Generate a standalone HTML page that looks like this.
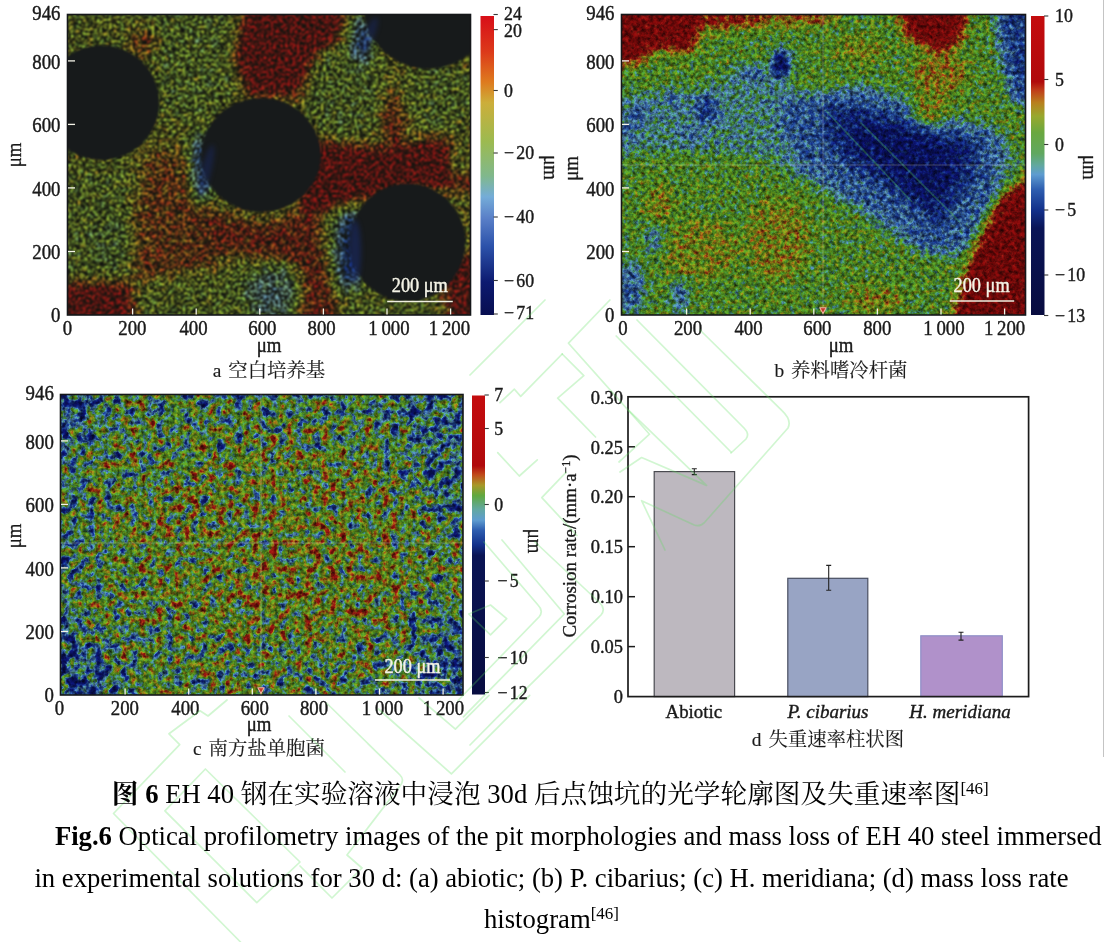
<!DOCTYPE html>
<html lang="zh"><head><meta charset="utf-8"><title>Fig.6</title>
<style>html,body{margin:0;padding:0;background:#fff;}body{width:1110px;height:942px;overflow:hidden;position:relative;}svg{position:absolute;left:0;top:0;font-family:"Liberation Serif", "Noto Serif CJK SC", serif;}</style></head><body>
<svg width="1110" height="942" viewBox="0 0 1110 942">
<rect width="1110" height="942" fill="#fff"/>
<line x1="1103.5" y1="0" x2="1103.5" y2="757" stroke="#c4c4c4" stroke-width="1"/>
<g id="figure" filter="url(#soft)">
<defs><filter id="soft" x="0" y="0" width="100%" height="100%" color-interpolation-filters="sRGB"><feGaussianBlur stdDeviation="0.55"/></filter></defs>
<defs><filter id="cblur" x="-10%" y="-10%" width="120%" height="120%" color-interpolation-filters="sRGB"><feGaussianBlur stdDeviation="1.2"/></filter><filter id="hblur" x="-30%" y="-30%" width="160%" height="160%" color-interpolation-filters="sRGB"><feGaussianBlur stdDeviation="2.5"/></filter></defs>
<defs><clipPath id="clipA"><rect x="67.5" y="14.5" width="403.0" height="300.5"/></clipPath>
<filter id="fA" filterUnits="userSpaceOnUse" x="27.5" y="-25.5" width="483.0" height="380.5" color-interpolation-filters="sRGB">
<feGaussianBlur in="SourceGraphic" stdDeviation="7" result="h"/>
<feTurbulence type="fractalNoise" baseFrequency="0.16" numOctaves="3" seed="5" result="n"/>
<feColorMatrix in="n" type="matrix" values="1 0 0 0 0 1 0 0 0 0 1 0 0 0 0 0 0 0 0 1" result="ng"/>
<feComposite in="h" in2="ng" operator="arithmetic" k1="0" k2="1" k3="0.3" k4="-0.150" result="hn"/>
<feComponentTransfer in="hn" result="col"><feFuncR type="table" tableValues="0.039 0.050 0.060 0.071 0.081 0.092 0.102 0.128 0.154 0.180 0.207 0.243 0.319 0.395 0.471 0.528 0.573 0.617 0.637 0.623 0.608 0.606 0.655 0.704 0.753 0.792 0.831 0.871 0.871 0.861 0.851 0.838 0.824 0.809 0.794 0.779 0.765 0.750 0.735 0.721 0.706"/><feFuncG type="table" tableValues="0.071 0.097 0.123 0.149 0.175 0.201 0.227 0.268 0.309 0.350 0.391 0.441 0.528 0.615 0.702 0.764 0.808 0.852 0.874 0.861 0.849 0.840 0.845 0.850 0.855 0.799 0.742 0.686 0.584 0.472 0.359 0.277 0.216 0.154 0.115 0.109 0.103 0.097 0.091 0.085 0.078"/><feFuncB type="table" tableValues="0.314 0.362 0.410 0.459 0.507 0.556 0.604 0.635 0.666 0.697 0.728 0.760 0.795 0.830 0.864 0.849 0.800 0.751 0.665 0.523 0.380 0.264 0.249 0.234 0.220 0.200 0.180 0.161 0.147 0.135 0.123 0.115 0.110 0.105 0.100 0.097 0.093 0.089 0.086 0.082 0.078"/><feFuncA type="linear" slope="0" intercept="1"/></feComponentTransfer>
<feTurbulence type="fractalNoise" baseFrequency="0.42" numOctaves="4" seed="11" result="s"/><feColorMatrix in="s" type="matrix" values="0 0 0 0 0.07 0 0 0 0 0.08 0 0 0 0 0.06 9 0 0 0 -3.45" result="sk"/><feComposite in="sk" in2="col" operator="over"/>
<feGaussianBlur stdDeviation="1.3"/>
</filter></defs>
<g clip-path="url(#clipA)"><g filter="url(#fA)">
<rect x="27.5" y="-25.5" width="483.0" height="380.5" fill="#9e9e9e"/>
<polygon points="40,0 160,0 150,50 40,60" fill="#969696"/>
<polygon points="150,0 245,0 240,70 215,120 165,120 150,60" fill="#8c8c8c"/>
<polygon points="245,0 345,0 335,55 300,95 250,95 235,60" fill="#ebebeb"/>
<ellipse cx="143" cy="42" rx="14" ry="12" fill="#c7c7c7"/>
<ellipse cx="343" cy="92" rx="40" ry="50" fill="#8c8c8c"/>
<ellipse cx="440" cy="96" rx="36" ry="34" fill="#8c8c8c"/>
<ellipse cx="394" cy="120" rx="10" ry="28" fill="#cccccc"/>
<polygon points="310,140 380,150 440,140 480,150 480,190 420,185 350,200 330,215 300,215" fill="#ebebeb"/>
<ellipse cx="462" cy="160" rx="14" ry="20" fill="#949494"/>
<polygon points="190,205 260,225 340,205 345,245 300,262 215,250 180,235" fill="#cccccc"/>
<polygon points="150,150 205,160 200,215 225,260 220,300 180,290 130,285 135,210" fill="#bdbdbd"/>
<polygon points="40,165 130,165 132,285 40,285" fill="#8f8f8f"/>
<ellipse cx="112" cy="240" rx="22" ry="25" fill="#858585"/>
<polygon points="40,283 130,283 136,330 40,330" fill="#e6e6e6"/>
<polygon points="136,283 245,262 250,330 136,330" fill="#919191"/>
<ellipse cx="272" cy="293" rx="30" ry="29" fill="#737373"/>
<ellipse cx="273" cy="296" rx="17" ry="17" fill="#636363"/>
<polygon points="300,245 330,240 335,300 360,330 300,330" fill="#cccccc"/>
<polygon points="318,215 350,200 352,290 390,300 440,300 440,330 345,330 330,285" fill="#919191"/>
<ellipse cx="350" cy="250" rx="12" ry="40" fill="#292929"/>
<ellipse cx="201" cy="166" rx="9" ry="36" fill="#383838"/>
<ellipse cx="362" cy="40" rx="9" ry="24" fill="#383838"/>
<polygon points="440,265 480,250 480,330 450,330 446,300" fill="#e0e0e0"/>
</g>
<g filter="url(#cblur)"><ellipse cx="101.5" cy="102.7" rx="58" ry="57.5" fill="#171a1b"/><ellipse cx="261" cy="155" rx="60" ry="57" fill="#171a1b"/><ellipse cx="428" cy="4" rx="65" ry="65" fill="#171a1b"/><ellipse cx="407.5" cy="242.5" rx="58" ry="59" fill="#171a1b"/></g><g filter="url(#hblur)" fill="#1b3190"><ellipse cx="355" cy="252" rx="6" ry="32" opacity="0.38"/><ellipse cx="206" cy="172" rx="5" ry="28" opacity="0.3" transform="rotate(14 206 172)"/><ellipse cx="369" cy="36" rx="5" ry="20" opacity="0.3" transform="rotate(22 369 36)"/></g>
</g>
<rect x="67.5" y="14.5" width="403.0" height="300.5" fill="none" stroke="#15171a" stroke-width="1.6"/>
<defs><clipPath id="clipB"><rect x="621.5" y="14.5" width="404.0" height="300.5"/></clipPath>
<filter id="fB" filterUnits="userSpaceOnUse" x="581.5" y="-25.5" width="484.0" height="380.5" color-interpolation-filters="sRGB">
<feGaussianBlur in="SourceGraphic" stdDeviation="6" result="h"/>
<feTurbulence type="fractalNoise" baseFrequency="0.2" numOctaves="3" seed="2" result="n"/>
<feColorMatrix in="n" type="matrix" values="1 0 0 0 0 1 0 0 0 0 1 0 0 0 0 0 0 0 0 1" result="ng"/>
<feComposite in="h" in2="ng" operator="arithmetic" k1="0" k2="1" k3="0.45" k4="-0.225" result="hn"/>
<feComponentTransfer in="hn" result="col"><feFuncR type="table" tableValues="0.039 0.042 0.046 0.049 0.052 0.058 0.071 0.085 0.099 0.116 0.145 0.175 0.204 0.277 0.350 0.400 0.361 0.322 0.324 0.337 0.353 0.373 0.392 0.447 0.525 0.598 0.647 0.696 0.711 0.718 0.708 0.676 0.643 0.631 0.620 0.608 0.596 0.580 0.565 0.549 0.533"/><feFuncG type="table" tableValues="0.063 0.069 0.076 0.082 0.089 0.102 0.141 0.180 0.220 0.261 0.310 0.359 0.408 0.492 0.576 0.644 0.651 0.658 0.664 0.671 0.676 0.678 0.681 0.682 0.682 0.671 0.612 0.553 0.460 0.359 0.265 0.184 0.102 0.090 0.078 0.067 0.055 0.051 0.047 0.043 0.039"/><feFuncB type="table" tableValues="0.376 0.403 0.429 0.455 0.481 0.508 0.540 0.571 0.602 0.634 0.669 0.703 0.737 0.771 0.804 0.812 0.714 0.616 0.471 0.314 0.207 0.176 0.146 0.131 0.128 0.124 0.118 0.111 0.105 0.098 0.092 0.085 0.078 0.073 0.067 0.061 0.055 0.051 0.047 0.043 0.039"/><feFuncA type="linear" slope="0" intercept="1"/></feComponentTransfer>
<feTurbulence type="fractalNoise" baseFrequency="0.24" numOctaves="3" seed="21" result="t2"/>
<feColorMatrix in="t2" type="matrix" values="1.25 0 0 0 0.1 1.25 0 0 0 0.1 1.25 0 0 0 0.1 0 0 0 0 1" result="sh"/>
<feBlend in="col" in2="sh" mode="multiply" result="col2"/>
<feGaussianBlur stdDeviation="0.75"/>
</filter></defs>
<g clip-path="url(#clipB)"><g filter="url(#fB)">
<rect x="581.5" y="-25.5" width="484.0" height="380.5" fill="#878787"/>
<polygon points="610,95 700,88 755,62 800,92 870,92 1000,132 1020,160 992,200 962,252 930,255 870,215 820,188 760,158 700,152 650,150 610,160" fill="#6b6b6b"/>
<polygon points="775,100 865,86 1002,134 998,192 962,254 925,254 858,208 798,168" fill="#4f4f4f"/>
<polygon points="826,105 864,108 979,143 974,176 948,214 940,228 889,188 846,163 824,136" fill="#303030"/>
<polygon points="850,125 900,128 960,152 950,185 930,205 890,175 856,150" fill="#1a1a1a"/>
<ellipse cx="800" cy="125" rx="22" ry="16" fill="#4c4c4c"/>
<ellipse cx="672" cy="100" rx="9" ry="7" fill="#424242"/>
<ellipse cx="707" cy="110" rx="12" ry="14" fill="#383838"/>
<ellipse cx="640" cy="112" rx="9" ry="8" fill="#424242"/>
<ellipse cx="752" cy="74" rx="12" ry="7" fill="#424242"/>
<ellipse cx="690" cy="135" rx="10" ry="7" fill="#474747"/>
<ellipse cx="628" cy="130" rx="8" ry="14" fill="#4c4c4c"/>
<polygon points="600,0 700,0 698,38 690,52 655,48 640,62 600,66" fill="#ebebeb"/>
<polygon points="700,0 772,0 768,24 700,30" fill="#d1d1d1"/>
<polygon points="772,0 838,0 832,24 775,24" fill="#bdbdbd"/>
<polygon points="898,0 968,0 962,40 940,52 905,36" fill="#ebebeb"/>
<ellipse cx="940" cy="72" rx="28" ry="22" fill="#a8a8a8"/>
<ellipse cx="932" cy="108" rx="20" ry="18" fill="#9e9e9e"/>
<ellipse cx="860" cy="50" rx="25" ry="14" fill="#9e9e9e"/>
<polygon points="994,0 1040,0 1040,110 1012,100 1002,60" fill="#404040"/>
<ellipse cx="781" cy="64" rx="8" ry="15" fill="#000000"/>
<polygon points="1045,165 1045,330 950,330 972,258 1000,200" fill="#f2f2f2"/>
<ellipse cx="778" cy="240" rx="32" ry="42" fill="#a1a1a1"/>
<ellipse cx="660" cy="203" rx="12" ry="20" fill="#a6a6a6"/>
<ellipse cx="875" cy="300" rx="30" ry="14" fill="#a1a1a1"/>
<ellipse cx="700" cy="250" rx="40" ry="30" fill="#9e9e9e"/>
<ellipse cx="630" cy="288" rx="13" ry="26" fill="#4c4c4c"/>
<ellipse cx="680" cy="296" rx="8" ry="16" fill="#4c4c4c"/>
<ellipse cx="655" cy="240" rx="10" ry="14" fill="#5c5c5c"/>
</g>

</g>
<rect x="621.5" y="14.5" width="404.0" height="300.5" fill="none" stroke="#15171a" stroke-width="1.6"/>
<defs><clipPath id="clipC"><rect x="60.5" y="394.5" width="402.5" height="300.5"/></clipPath>
<filter id="fC" filterUnits="userSpaceOnUse" x="20.5" y="354.5" width="482.5" height="380.5" color-interpolation-filters="sRGB">
<feGaussianBlur in="SourceGraphic" stdDeviation="12" result="h"/>
<feTurbulence type="fractalNoise" baseFrequency="0.115" numOctaves="3" seed="9" result="n"/>
<feColorMatrix in="n" type="matrix" values="1 0 0 0 0 1 0 0 0 0 1 0 0 0 0 0 0 0 0 1" result="ng"/>
<feComposite in="h" in2="ng" operator="arithmetic" k1="0" k2="1" k3="1.0" k4="-0.500" result="hn"/>
<feComponentTransfer in="hn" result="col"><feFuncR type="table" tableValues="0.039 0.041 0.043 0.045 0.047 0.049 0.051 0.053 0.055 0.070 0.085 0.101 0.129 0.176 0.245 0.347 0.389 0.342 0.320 0.336 0.355 0.380 0.406 0.456 0.523 0.590 0.638 0.680 0.706 0.706 0.695 0.669 0.643 0.629 0.616 0.602 0.588 0.575 0.561 0.547 0.533"/><feFuncG type="table" tableValues="0.063 0.067 0.071 0.075 0.078 0.082 0.086 0.090 0.094 0.138 0.181 0.225 0.282 0.361 0.455 0.573 0.646 0.654 0.662 0.670 0.676 0.678 0.681 0.681 0.678 0.675 0.622 0.557 0.472 0.358 0.259 0.180 0.102 0.094 0.086 0.078 0.071 0.063 0.055 0.047 0.039"/><feFuncB type="table" tableValues="0.376 0.392 0.408 0.424 0.439 0.455 0.471 0.486 0.502 0.537 0.572 0.607 0.649 0.704 0.756 0.803 0.784 0.667 0.521 0.333 0.207 0.176 0.146 0.132 0.129 0.126 0.120 0.114 0.107 0.099 0.092 0.085 0.078 0.074 0.069 0.064 0.059 0.054 0.049 0.044 0.039"/><feFuncA type="linear" slope="0" intercept="1"/></feComponentTransfer>
<feTurbulence type="fractalNoise" baseFrequency="0.24" numOctaves="3" seed="33" result="t2"/>
<feColorMatrix in="t2" type="matrix" values="1.25 0 0 0 0.1 1.25 0 0 0 0.1 1.25 0 0 0 0.1 0 0 0 0 1" result="sh"/>
<feBlend in="col" in2="sh" mode="multiply" result="col2"/>
<feGaussianBlur stdDeviation="0.65"/>
</filter></defs>
<g clip-path="url(#clipC)"><g filter="url(#fC)">
<rect x="20.5" y="354.5" width="482.5" height="380.5" fill="#828282"/>
<ellipse cx="270" cy="545" rx="150" ry="100" fill="#8f8f8f"/>
<ellipse cx="315" cy="580" rx="85" ry="60" fill="#959595"/>
<polygon points="40,380 110,380 90,440 40,460" fill="#5c5c5c"/>
<polygon points="40,460 75,460 78,640 40,640" fill="#6b6b6b"/>
<polygon points="40,640 95,640 130,710 40,710" fill="#575757"/>
<polygon points="370,380 480,380 480,540 440,520 400,440" fill="#666666"/>
<polygon points="425,620 480,600 480,710 410,710" fill="#5c5c5c"/>
<rect x="130" y="380" width="240" height="22" fill="#707070"/>
</g>

</g>
<rect x="60.5" y="394.5" width="402.5" height="300.5" fill="none" stroke="#15171a" stroke-width="1.6"/>
<path d="M621.5 165.0H1025.5M823.0 14.5V315.0" stroke="#d8d8d0" stroke-opacity="0.3" stroke-width="1" fill="none"/>
<path d="M819.8 307.8H826.2L823.0 313.4Z" fill="#c43a2a" stroke="#f2b0a0" stroke-width="1.1" stroke-linejoin="round"/>
<path d="M60.5 543.0H463.0M261.0 394.5V695.0" stroke="#d8d8d0" stroke-opacity="0.3" stroke-width="1" fill="none"/>
<path d="M257.8 687.8H264.2L261.0 693.4Z" fill="#c43a2a" stroke="#f2b0a0" stroke-width="1.1" stroke-linejoin="round"/>
<text transform="translate(67.5 335.0) scale(0.99 1.08)" font-size="19.0" text-anchor="middle" fill="#1a1a1a" stroke="#1a1a1a" stroke-width="0.4" word-spacing="-1">0</text>
<line x1="132.6" y1="308.5" x2="132.6" y2="314.5" stroke="#f4f4e8" stroke-width="1.3"/>
<text transform="translate(132.4 335.0) scale(0.99 1.08)" font-size="19.0" text-anchor="middle" fill="#1a1a1a" stroke="#1a1a1a" stroke-width="0.4" word-spacing="-1">200</text>
<line x1="196.2" y1="308.5" x2="196.2" y2="314.5" stroke="#f4f4e8" stroke-width="1.3"/>
<text transform="translate(193.5 335.0) scale(0.99 1.08)" font-size="19.0" text-anchor="middle" fill="#1a1a1a" stroke="#1a1a1a" stroke-width="0.4" word-spacing="-1">400</text>
<line x1="259.8" y1="308.5" x2="259.8" y2="314.5" stroke="#f4f4e8" stroke-width="1.3"/>
<text transform="translate(262.4 335.0) scale(0.99 1.08)" font-size="19.0" text-anchor="middle" fill="#1a1a1a" stroke="#1a1a1a" stroke-width="0.4" word-spacing="-1">600</text>
<line x1="323.4" y1="308.5" x2="323.4" y2="314.5" stroke="#f4f4e8" stroke-width="1.3"/>
<text transform="translate(321.6 335.0) scale(0.99 1.08)" font-size="19.0" text-anchor="middle" fill="#1a1a1a" stroke="#1a1a1a" stroke-width="0.4" word-spacing="-1">800</text>
<line x1="387.0" y1="308.5" x2="387.0" y2="314.5" stroke="#f4f4e8" stroke-width="1.3"/>
<text transform="translate(389.0 335.0) scale(0.99 1.08)" font-size="19.0" text-anchor="middle" fill="#1a1a1a" stroke="#1a1a1a" stroke-width="0.4" word-spacing="-1">1 000</text>
<line x1="450.6" y1="308.5" x2="450.6" y2="314.5" stroke="#f4f4e8" stroke-width="1.3"/>
<text transform="translate(449.5 335.0) scale(0.99 1.08)" font-size="19.0" text-anchor="middle" fill="#1a1a1a" stroke="#1a1a1a" stroke-width="0.4" word-spacing="-1">1 200</text>
<text transform="translate(60.5 322.0) scale(0.99 1.08)" font-size="19.0" text-anchor="end" fill="#1a1a1a" stroke="#1a1a1a" stroke-width="0.4" >0</text>
<line x1="68.0" y1="251.5" x2="75.0" y2="251.5" stroke="#f4f4e8" stroke-width="1.3"/>
<text transform="translate(60.5 259.1) scale(0.99 1.08)" font-size="19.0" text-anchor="end" fill="#1a1a1a" stroke="#1a1a1a" stroke-width="0.4" >200</text>
<line x1="68.0" y1="187.9" x2="75.0" y2="187.9" stroke="#f4f4e8" stroke-width="1.3"/>
<text transform="translate(60.5 195.5) scale(0.99 1.08)" font-size="19.0" text-anchor="end" fill="#1a1a1a" stroke="#1a1a1a" stroke-width="0.4" >400</text>
<line x1="68.0" y1="124.4" x2="75.0" y2="124.4" stroke="#f4f4e8" stroke-width="1.3"/>
<text transform="translate(60.5 132.0) scale(0.99 1.08)" font-size="19.0" text-anchor="end" fill="#1a1a1a" stroke="#1a1a1a" stroke-width="0.4" >600</text>
<line x1="68.0" y1="60.9" x2="75.0" y2="60.9" stroke="#f4f4e8" stroke-width="1.3"/>
<text transform="translate(60.5 68.5) scale(0.99 1.08)" font-size="19.0" text-anchor="end" fill="#1a1a1a" stroke="#1a1a1a" stroke-width="0.4" >800</text>
<text transform="translate(60.5 19.9) scale(0.99 1.08)" font-size="19.0" text-anchor="end" fill="#1a1a1a" stroke="#1a1a1a" stroke-width="0.4" >946</text>
<text transform="translate(622.9 335.0) scale(0.99 1.08)" font-size="19.0" text-anchor="middle" fill="#1a1a1a" stroke="#1a1a1a" stroke-width="0.4" word-spacing="-1">0</text>
<line x1="686.6" y1="308.5" x2="686.6" y2="314.5" stroke="#f4f4e8" stroke-width="1.3"/>
<text transform="translate(688.0 335.0) scale(0.99 1.08)" font-size="19.0" text-anchor="middle" fill="#1a1a1a" stroke="#1a1a1a" stroke-width="0.4" word-spacing="-1">200</text>
<line x1="750.2" y1="308.5" x2="750.2" y2="314.5" stroke="#f4f4e8" stroke-width="1.3"/>
<text transform="translate(748.5 335.0) scale(0.99 1.08)" font-size="19.0" text-anchor="middle" fill="#1a1a1a" stroke="#1a1a1a" stroke-width="0.4" word-spacing="-1">400</text>
<line x1="813.8" y1="308.5" x2="813.8" y2="314.5" stroke="#f4f4e8" stroke-width="1.3"/>
<text transform="translate(817.4 335.0) scale(0.99 1.08)" font-size="19.0" text-anchor="middle" fill="#1a1a1a" stroke="#1a1a1a" stroke-width="0.4" word-spacing="-1">600</text>
<line x1="877.4" y1="308.5" x2="877.4" y2="314.5" stroke="#f4f4e8" stroke-width="1.3"/>
<text transform="translate(877.3 335.0) scale(0.99 1.08)" font-size="19.0" text-anchor="middle" fill="#1a1a1a" stroke="#1a1a1a" stroke-width="0.4" word-spacing="-1">800</text>
<line x1="941.0" y1="308.5" x2="941.0" y2="314.5" stroke="#f4f4e8" stroke-width="1.3"/>
<text transform="translate(944.0 335.0) scale(0.99 1.08)" font-size="19.0" text-anchor="middle" fill="#1a1a1a" stroke="#1a1a1a" stroke-width="0.4" word-spacing="-1">1 000</text>
<line x1="1004.6" y1="308.5" x2="1004.6" y2="314.5" stroke="#f4f4e8" stroke-width="1.3"/>
<text transform="translate(1004.6 335.0) scale(0.99 1.08)" font-size="19.0" text-anchor="middle" fill="#1a1a1a" stroke="#1a1a1a" stroke-width="0.4" word-spacing="-1">1 200</text>
<text transform="translate(614.5 322.0) scale(0.99 1.08)" font-size="19.0" text-anchor="end" fill="#1a1a1a" stroke="#1a1a1a" stroke-width="0.4" >0</text>
<line x1="622.0" y1="251.5" x2="629.0" y2="251.5" stroke="#f4f4e8" stroke-width="1.3"/>
<text transform="translate(614.5 259.1) scale(0.99 1.08)" font-size="19.0" text-anchor="end" fill="#1a1a1a" stroke="#1a1a1a" stroke-width="0.4" >200</text>
<line x1="622.0" y1="187.9" x2="629.0" y2="187.9" stroke="#f4f4e8" stroke-width="1.3"/>
<text transform="translate(614.5 195.5) scale(0.99 1.08)" font-size="19.0" text-anchor="end" fill="#1a1a1a" stroke="#1a1a1a" stroke-width="0.4" >400</text>
<line x1="622.0" y1="124.4" x2="629.0" y2="124.4" stroke="#f4f4e8" stroke-width="1.3"/>
<text transform="translate(614.5 132.0) scale(0.99 1.08)" font-size="19.0" text-anchor="end" fill="#1a1a1a" stroke="#1a1a1a" stroke-width="0.4" >600</text>
<line x1="622.0" y1="60.9" x2="629.0" y2="60.9" stroke="#f4f4e8" stroke-width="1.3"/>
<text transform="translate(614.5 68.5) scale(0.99 1.08)" font-size="19.0" text-anchor="end" fill="#1a1a1a" stroke="#1a1a1a" stroke-width="0.4" >800</text>
<text transform="translate(614.5 19.9) scale(0.99 1.08)" font-size="19.0" text-anchor="end" fill="#1a1a1a" stroke="#1a1a1a" stroke-width="0.4" >946</text>
<text transform="translate(59.4 715.0) scale(0.99 1.08)" font-size="19.0" text-anchor="middle" fill="#1a1a1a" stroke="#1a1a1a" stroke-width="0.4" word-spacing="-1">0</text>
<line x1="125.1" y1="688.5" x2="125.1" y2="694.5" stroke="#f4f4e8" stroke-width="1.3"/>
<text transform="translate(124.9 715.0) scale(0.99 1.08)" font-size="19.0" text-anchor="middle" fill="#1a1a1a" stroke="#1a1a1a" stroke-width="0.4" word-spacing="-1">200</text>
<line x1="188.7" y1="688.5" x2="188.7" y2="694.5" stroke="#f4f4e8" stroke-width="1.3"/>
<text transform="translate(185.4 715.0) scale(0.99 1.08)" font-size="19.0" text-anchor="middle" fill="#1a1a1a" stroke="#1a1a1a" stroke-width="0.4" word-spacing="-1">400</text>
<line x1="252.3" y1="688.5" x2="252.3" y2="694.5" stroke="#f4f4e8" stroke-width="1.3"/>
<text transform="translate(254.8 715.0) scale(0.99 1.08)" font-size="19.0" text-anchor="middle" fill="#1a1a1a" stroke="#1a1a1a" stroke-width="0.4" word-spacing="-1">600</text>
<line x1="315.9" y1="688.5" x2="315.9" y2="694.5" stroke="#f4f4e8" stroke-width="1.3"/>
<text transform="translate(314.0 715.0) scale(0.99 1.08)" font-size="19.0" text-anchor="middle" fill="#1a1a1a" stroke="#1a1a1a" stroke-width="0.4" word-spacing="-1">800</text>
<line x1="379.5" y1="688.5" x2="379.5" y2="694.5" stroke="#f4f4e8" stroke-width="1.3"/>
<text transform="translate(382.5 715.0) scale(0.99 1.08)" font-size="19.0" text-anchor="middle" fill="#1a1a1a" stroke="#1a1a1a" stroke-width="0.4" word-spacing="-1">1 000</text>
<line x1="443.1" y1="688.5" x2="443.1" y2="694.5" stroke="#f4f4e8" stroke-width="1.3"/>
<text transform="translate(443.5 715.0) scale(0.99 1.08)" font-size="19.0" text-anchor="middle" fill="#1a1a1a" stroke="#1a1a1a" stroke-width="0.4" word-spacing="-1">1 200</text>
<text transform="translate(53.8 702.0) scale(0.99 1.08)" font-size="19.0" text-anchor="end" fill="#1a1a1a" stroke="#1a1a1a" stroke-width="0.4" >0</text>
<line x1="61.0" y1="631.5" x2="68.0" y2="631.5" stroke="#f4f4e8" stroke-width="1.3"/>
<text transform="translate(53.8 639.1) scale(0.99 1.08)" font-size="19.0" text-anchor="end" fill="#1a1a1a" stroke="#1a1a1a" stroke-width="0.4" >200</text>
<line x1="61.0" y1="567.9" x2="68.0" y2="567.9" stroke="#f4f4e8" stroke-width="1.3"/>
<text transform="translate(53.8 575.5) scale(0.99 1.08)" font-size="19.0" text-anchor="end" fill="#1a1a1a" stroke="#1a1a1a" stroke-width="0.4" >400</text>
<line x1="61.0" y1="504.4" x2="68.0" y2="504.4" stroke="#f4f4e8" stroke-width="1.3"/>
<text transform="translate(53.8 512.0) scale(0.99 1.08)" font-size="19.0" text-anchor="end" fill="#1a1a1a" stroke="#1a1a1a" stroke-width="0.4" >600</text>
<line x1="61.0" y1="440.9" x2="68.0" y2="440.9" stroke="#f4f4e8" stroke-width="1.3"/>
<text transform="translate(53.8 448.5) scale(0.99 1.08)" font-size="19.0" text-anchor="end" fill="#1a1a1a" stroke="#1a1a1a" stroke-width="0.4" >800</text>
<text transform="translate(53.8 399.9) scale(0.99 1.08)" font-size="19.0" text-anchor="end" fill="#1a1a1a" stroke="#1a1a1a" stroke-width="0.4" >946</text>
<text transform="translate(269.0 351.5) scale(0.99 1.08)" font-size="19.0" text-anchor="middle" fill="#1a1a1a" stroke="#1a1a1a" stroke-width="0.4" >μm</text>
<text transform="translate(841.0 351.5) scale(0.99 1.08)" font-size="19.0" text-anchor="middle" fill="#1a1a1a" stroke="#1a1a1a" stroke-width="0.4" >μm</text>
<text transform="translate(259.0 731.0) scale(0.99 1.08)" font-size="19.0" text-anchor="middle" fill="#1a1a1a" stroke="#1a1a1a" stroke-width="0.4" >μm</text>
<text transform="translate(269.0 377.0) scale(1.0 1.0)" font-size="19.4" text-anchor="middle" fill="#1a1a1a" stroke="#1a1a1a" stroke-width="0.15" >a <tspan dx="2">空白培养基</tspan></text>
<text transform="translate(841.0 377.0) scale(1.0 1.0)" font-size="19.4" text-anchor="middle" fill="#1a1a1a" stroke="#1a1a1a" stroke-width="0.15" >b <tspan dx="2">养料嗜冷杆菌</tspan></text>
<text transform="translate(259.0 755.0) scale(1.0 1.0)" font-size="19.4" text-anchor="middle" fill="#1a1a1a" stroke="#1a1a1a" stroke-width="0.15" >c <tspan dx="2">南方盐单胞菌</tspan></text>
<text transform="translate(828.0 745.5) scale(1.0 1.0)" font-size="19.4" text-anchor="middle" fill="#1a1a1a" stroke="#1a1a1a" stroke-width="0.15" >d <tspan dx="2">失重速率柱状图</tspan></text>
<text transform="translate(20.8 155) rotate(-90) scale(0.99 1.08)" font-size="19.0" text-anchor="middle" fill="#1a1a1a" stroke="#1a1a1a" stroke-width="0.3">μm</text>
<text transform="translate(578 168.5) rotate(-90) scale(0.99 1.08)" font-size="19.0" text-anchor="middle" fill="#1a1a1a" stroke="#1a1a1a" stroke-width="0.3">μm</text>
<text transform="translate(20.5 536) rotate(-90) scale(0.99 1.08)" font-size="19.0" text-anchor="middle" fill="#1a1a1a" stroke="#1a1a1a" stroke-width="0.3">μm</text>
<text transform="translate(543.5 167.5) rotate(90) scale(0.99 1.08)" font-size="19.0" text-anchor="middle" fill="#1a1a1a" stroke="#1a1a1a" stroke-width="0.3">μm</text>
<text transform="translate(1083.3 167.3) rotate(90) scale(0.99 1.08)" font-size="19.0" text-anchor="middle" fill="#1a1a1a" stroke="#1a1a1a" stroke-width="0.3">μm</text>
<text transform="translate(527.8 541) rotate(90) scale(0.99 1.08)" font-size="19.0" text-anchor="middle" fill="#1a1a1a" stroke="#1a1a1a" stroke-width="0.3">μm</text>
<defs>
<linearGradient id="cba" x1="0" y1="0" x2="0" y2="1"><stop offset="0" stop-color="#d80e18"/><stop offset="0.12" stop-color="#dc3a1a"/><stop offset="0.22" stop-color="#de7a1e"/><stop offset="0.29" stop-color="#ccae3a"/><stop offset="0.42" stop-color="#9cba50"/><stop offset="0.535" stop-color="#80b88c"/><stop offset="0.605" stop-color="#74acd8"/><stop offset="0.675" stop-color="#5a80c8"/><stop offset="0.77" stop-color="#2c52aa"/><stop offset="0.89" stop-color="#0c1a70"/><stop offset="1" stop-color="#080e50"/></linearGradient>
<linearGradient id="cbb" x1="0" y1="0" x2="0" y2="1"><stop offset="0" stop-color="#c40c0e"/><stop offset="0.22" stop-color="#b00a0c"/><stop offset="0.25" stop-color="#c0401a"/><stop offset="0.29" stop-color="#b8801e"/><stop offset="0.335" stop-color="#98a82e"/><stop offset="0.39" stop-color="#6aa840"/><stop offset="0.46" stop-color="#60a860"/><stop offset="0.50" stop-color="#62a8a0"/><stop offset="0.53" stop-color="#5e9cd0"/><stop offset="0.58" stop-color="#2e5eb0"/><stop offset="0.65" stop-color="#12308a"/><stop offset="0.71" stop-color="#0a1456"/><stop offset="1" stop-color="#080c40"/></linearGradient>
<linearGradient id="cbc" x1="0" y1="0" x2="0" y2="1"><stop offset="0" stop-color="#c40c0e"/><stop offset="0.235" stop-color="#b00a0c"/><stop offset="0.265" stop-color="#c04a1a"/><stop offset="0.30" stop-color="#a89828"/><stop offset="0.335" stop-color="#60a840"/><stop offset="0.38" stop-color="#62a8a0"/><stop offset="0.417" stop-color="#5e9cd0"/><stop offset="0.45" stop-color="#2e5eb0"/><stop offset="0.50" stop-color="#12308a"/><stop offset="0.535" stop-color="#0a1454"/><stop offset="1" stop-color="#080c40"/></linearGradient>
</defs>
<rect x="480.5" y="16.0" width="13.5" height="299.0" fill="url(#cba)"/>
<rect x="1031.0" y="16.0" width="13.5" height="299.0" fill="url(#cbb)"/>
<rect x="472.0" y="395.5" width="13.0" height="299.0" fill="url(#cbc)"/>
<line x1="493.5" y1="14.5" x2="497.8" y2="14.5" stroke="#3a3a3a" stroke-width="1.1"/>
<text transform="translate(504.0 20.1) scale(0.97 1.0)" font-size="18.4" text-anchor="start" fill="#1a1a1a" stroke="#1a1a1a" stroke-width="0.4" >24</text>
<line x1="493.5" y1="29.6" x2="497.8" y2="29.6" stroke="#3a3a3a" stroke-width="1.1"/>
<text transform="translate(504.0 36.8) scale(0.97 1.0)" font-size="18.4" text-anchor="start" fill="#1a1a1a" stroke="#1a1a1a" stroke-width="0.4" >20</text>
<line x1="493.5" y1="90.5" x2="497.8" y2="90.5" stroke="#3a3a3a" stroke-width="1.1"/>
<text transform="translate(504.0 96.8) scale(0.97 1.0)" font-size="18.4" text-anchor="start" fill="#1a1a1a" stroke="#1a1a1a" stroke-width="0.4" >0</text>
<line x1="493.5" y1="153" x2="497.8" y2="153" stroke="#3a3a3a" stroke-width="1.1"/>
<text transform="translate(504.0 159.3) scale(0.97 1.0)" font-size="18.4" text-anchor="start" fill="#1a1a1a" stroke="#1a1a1a" stroke-width="0.4" >−<tspan dx="2.3">20</tspan></text>
<line x1="493.5" y1="217" x2="497.8" y2="217" stroke="#3a3a3a" stroke-width="1.1"/>
<text transform="translate(504.0 223.3) scale(0.97 1.0)" font-size="18.4" text-anchor="start" fill="#1a1a1a" stroke="#1a1a1a" stroke-width="0.4" >−<tspan dx="2.3">40</tspan></text>
<line x1="493.5" y1="280.5" x2="497.8" y2="280.5" stroke="#3a3a3a" stroke-width="1.1"/>
<text transform="translate(504.0 286.8) scale(0.97 1.0)" font-size="18.4" text-anchor="start" fill="#1a1a1a" stroke="#1a1a1a" stroke-width="0.4" >−<tspan dx="2.3">60</tspan></text>
<line x1="493.5" y1="314" x2="497.8" y2="314" stroke="#3a3a3a" stroke-width="1.1"/>
<text transform="translate(504.0 319.3) scale(0.97 1.0)" font-size="18.4" text-anchor="start" fill="#1a1a1a" stroke="#1a1a1a" stroke-width="0.4" >−<tspan dx="2.3">71</tspan></text>
<line x1="1044.0" y1="16" x2="1048.3" y2="16" stroke="#3a3a3a" stroke-width="1.1"/>
<text transform="translate(1055.0 22.3) scale(0.97 1.0)" font-size="18.4" text-anchor="start" fill="#1a1a1a" stroke="#1a1a1a" stroke-width="0.4" >10</text>
<line x1="1044.0" y1="79.5" x2="1048.3" y2="79.5" stroke="#3a3a3a" stroke-width="1.1"/>
<text transform="translate(1055.0 85.8) scale(0.97 1.0)" font-size="18.4" text-anchor="start" fill="#1a1a1a" stroke="#1a1a1a" stroke-width="0.4" >5</text>
<line x1="1044.0" y1="144.5" x2="1048.3" y2="144.5" stroke="#3a3a3a" stroke-width="1.1"/>
<text transform="translate(1055.0 150.8) scale(0.97 1.0)" font-size="18.4" text-anchor="start" fill="#1a1a1a" stroke="#1a1a1a" stroke-width="0.4" >0</text>
<line x1="1044.0" y1="210" x2="1048.3" y2="210" stroke="#3a3a3a" stroke-width="1.1"/>
<text transform="translate(1055.0 216.3) scale(0.97 1.0)" font-size="18.4" text-anchor="start" fill="#1a1a1a" stroke="#1a1a1a" stroke-width="0.4" >−<tspan dx="2.3">5</tspan></text>
<line x1="1044.0" y1="275" x2="1048.3" y2="275" stroke="#3a3a3a" stroke-width="1.1"/>
<text transform="translate(1055.0 281.3) scale(0.97 1.0)" font-size="18.4" text-anchor="start" fill="#1a1a1a" stroke="#1a1a1a" stroke-width="0.4" >−<tspan dx="2.3">10</tspan></text>
<line x1="1044.0" y1="315.5" x2="1048.3" y2="315.5" stroke="#3a3a3a" stroke-width="1.1"/>
<text transform="translate(1055.0 321.8) scale(0.97 1.0)" font-size="18.4" text-anchor="start" fill="#1a1a1a" stroke="#1a1a1a" stroke-width="0.4" >−<tspan dx="2.3">13</tspan></text>
<line x1="484.5" y1="395" x2="488.8" y2="395" stroke="#3a3a3a" stroke-width="1.1"/>
<text transform="translate(494.3 401.3) scale(0.97 1.0)" font-size="18.4" text-anchor="start" fill="#1a1a1a" stroke="#1a1a1a" stroke-width="0.4" >7</text>
<line x1="484.5" y1="428.5" x2="488.8" y2="428.5" stroke="#3a3a3a" stroke-width="1.1"/>
<text transform="translate(494.3 434.8) scale(0.97 1.0)" font-size="18.4" text-anchor="start" fill="#1a1a1a" stroke="#1a1a1a" stroke-width="0.4" >5</text>
<line x1="484.5" y1="504.5" x2="488.8" y2="504.5" stroke="#3a3a3a" stroke-width="1.1"/>
<text transform="translate(494.3 510.8) scale(0.97 1.0)" font-size="18.4" text-anchor="start" fill="#1a1a1a" stroke="#1a1a1a" stroke-width="0.4" >0</text>
<line x1="484.5" y1="581" x2="488.8" y2="581" stroke="#3a3a3a" stroke-width="1.1"/>
<text transform="translate(497.5 587.3) scale(0.97 1.0)" font-size="18.4" text-anchor="start" fill="#1a1a1a" stroke="#1a1a1a" stroke-width="0.4" >−<tspan dx="2.3">5</tspan></text>
<line x1="484.5" y1="657.5" x2="488.8" y2="657.5" stroke="#3a3a3a" stroke-width="1.1"/>
<text transform="translate(497.5 663.8) scale(0.97 1.0)" font-size="18.4" text-anchor="start" fill="#1a1a1a" stroke="#1a1a1a" stroke-width="0.4" >−<tspan dx="2.3">10</tspan></text>
<line x1="484.5" y1="692.5" x2="488.8" y2="692.5" stroke="#3a3a3a" stroke-width="1.1"/>
<text transform="translate(497.5 698.8) scale(0.97 1.0)" font-size="18.4" text-anchor="start" fill="#1a1a1a" stroke="#1a1a1a" stroke-width="0.4" >−<tspan dx="2.3">12</tspan></text>
<line x1="387.2" y1="301.5" x2="452.8" y2="301.5" stroke="#f0efe0" stroke-width="1.6"/>
<text transform="translate(419.8 291.5) scale(0.99 1.08)" font-size="18.5" text-anchor="middle" fill="#f4f3e6" stroke="#f4f3e6" stroke-width="0.4" >200 μm</text>
<line x1="949.8" y1="301" x2="1014.2" y2="301" stroke="#f0efe0" stroke-width="1.6"/>
<text transform="translate(981.6 292.0) scale(0.99 1.08)" font-size="18.5" text-anchor="middle" fill="#f4f3e6" stroke="#f4f3e6" stroke-width="0.4" >200 μm</text>
<line x1="375" y1="680" x2="450" y2="680" stroke="#f0efe0" stroke-width="1.6"/>
<text transform="translate(412.5 672.5) scale(0.99 1.08)" font-size="18.5" text-anchor="middle" fill="#f4f3e6" stroke="#f4f3e6" stroke-width="0.4" >200 μm</text>
<rect x="654.2" y="471.6" width="80.4" height="225.0" fill="#bdb8bf" stroke="#4a4a50" stroke-width="1.2"/>
<rect x="787.8" y="578.3" width="80.0" height="118.3" fill="#98a4c4" stroke="#4a4f62" stroke-width="1.2"/>
<rect x="920.8" y="635.8" width="81.5" height="60.8" fill="#b091ca" stroke="#8f90c8" stroke-width="1.2"/>
<rect x="628.0" y="396.8" width="400.6" height="299.8" fill="none" stroke="#1c1c1c" stroke-width="1.7"/>
<text transform="translate(623.0 703.3) scale(0.97 1.02)" font-size="19.0" text-anchor="end" fill="#1a1a1a" stroke="#1a1a1a" stroke-width="0.4" >0</text>
<line x1="628.0" y1="646.6" x2="635.0" y2="646.6" stroke="#1c1c1c" stroke-width="1.5"/>
<text transform="translate(623.0 653.3) scale(0.97 1.02)" font-size="19.0" text-anchor="end" fill="#1a1a1a" stroke="#1a1a1a" stroke-width="0.4" >0.05</text>
<line x1="628.0" y1="596.7" x2="635.0" y2="596.7" stroke="#1c1c1c" stroke-width="1.5"/>
<text transform="translate(623.0 603.4) scale(0.97 1.02)" font-size="19.0" text-anchor="end" fill="#1a1a1a" stroke="#1a1a1a" stroke-width="0.4" >0.10</text>
<line x1="628.0" y1="546.7" x2="635.0" y2="546.7" stroke="#1c1c1c" stroke-width="1.5"/>
<text transform="translate(623.0 553.4) scale(0.97 1.02)" font-size="19.0" text-anchor="end" fill="#1a1a1a" stroke="#1a1a1a" stroke-width="0.4" >0.15</text>
<line x1="628.0" y1="496.7" x2="635.0" y2="496.7" stroke="#1c1c1c" stroke-width="1.5"/>
<text transform="translate(623.0 503.4) scale(0.97 1.02)" font-size="19.0" text-anchor="end" fill="#1a1a1a" stroke="#1a1a1a" stroke-width="0.4" >0.20</text>
<line x1="628.0" y1="446.8" x2="635.0" y2="446.8" stroke="#1c1c1c" stroke-width="1.5"/>
<text transform="translate(623.0 453.5) scale(0.97 1.02)" font-size="19.0" text-anchor="end" fill="#1a1a1a" stroke="#1a1a1a" stroke-width="0.4" >0.25</text>
<text transform="translate(623.0 403.5) scale(0.97 1.02)" font-size="19.0" text-anchor="end" fill="#1a1a1a" stroke="#1a1a1a" stroke-width="0.4" >0.30</text>
<path d="M694.3 468.8V474.6M691.8 468.8H696.8M691.8 474.6H696.8" stroke="#222" stroke-width="1.1" fill="none"/>
<path d="M828.7 565.4V590.2M826.2 565.4H831.2M826.2 590.2H831.2" stroke="#222" stroke-width="1.1" fill="none"/>
<path d="M961 632.3V640.1M958.5 632.3H963.5M958.5 640.1H963.5" stroke="#222" stroke-width="1.1" fill="none"/>
<text transform="translate(693.8 717.6) scale(0.99 1.02)" font-size="19.0" text-anchor="middle" fill="#1a1a1a" stroke="#1a1a1a" stroke-width="0.4" >Abiotic</text>
<text transform="translate(828.0 717.6) scale(1.0 1.02)" font-size="19.0" text-anchor="middle" fill="#1a1a1a" stroke="#1a1a1a" stroke-width="0.4" font-style="italic">P. cibarius</text>
<text transform="translate(960.0 717.6) scale(1.0 1.02)" font-size="19.0" text-anchor="middle" fill="#1a1a1a" stroke="#1a1a1a" stroke-width="0.4" font-style="italic">H. meridiana</text>
<text transform="translate(576.0 546) rotate(-90) scale(1.0 1.02)" font-size="18.9" text-anchor="middle" fill="#1a1a1a" stroke="#1a1a1a" stroke-width="0.3">Corrosion rate/(mm·a<tspan font-size="12" dy="-6">−1</tspan><tspan dy="6">)</tspan></text>
<g fill="none" stroke="#58e058" stroke-opacity="0.28" stroke-width="1.7" stroke-linejoin="round" stroke-linecap="round"><path d="M609.9 300L568.5 343.2L649.5 434.2L619 462"/><path d="M562.2 354L583.8 375.7L557.7 398.2L595.5 437"/><path d="M562.2 354L520.7 396.4L514.4 389.2L500 402.7"/><path d="M616.2 336L731 452"/><path d="M637 320L744 428Q750 434 746 439L731 453"/><path d="M700 330L782 410.6Q792 420 788 428L704.7 522.3Q699 528 692 524L641.6 500.7L665 550"/><path d="M629 410.6L706.5 485.4L641.6 457.5L620 472"/><path d="M497.7 452.6L519.3 476L537.3 459.8"/><path d="M566 472.4L541.8 497.7L577 535.5"/><path d="M535 542L600 603Q606 609 601 615L497.7 716.8L470 745"/><path d="M502 540L564.3 614L463.4 716.8"/><path d="M484 542L538 605Q544 611 539 617L458 700.5"/><path d="M490.5 605L506.7 618.6L490.5 634.8L468.8 614Z"/><path d="M227 700L208 716L200 710.8L169 733.8L179.7 744.6L113.5 813.5L240.5 942"/><path d="M205.4 769L300 862L256.8 902.7L164.9 810.8Z"/><path d="M327 703.5L400 775Q405 780 400 786L347 855L362 868L332 898L300 866"/><path d="M289 716L345 772"/><path d="M378.4 709L451.4 773.8L529.7 695.4"/><path d="M419 698L455.4 729.2L489 695.4"/><path d="M545 300L470 375"/><path d="M825.7 110.5L911.5 201.3"/><path d="M861 123L959.4 221.5"/></g>
</g>
<g font-size="26.67" fill="#000">
<text x="550.3" y="802.6" text-anchor="middle"><tspan font-weight="bold">图 6</tspan> EH 40 钢在实验溶液中浸泡 30d 后点蚀坑的光学轮廓图及失重速率图<tspan font-size="17" dy="-9">[46]</tspan></text>
<text x="578.3" y="844.5" text-anchor="middle"><tspan font-weight="bold">Fig.6</tspan> Optical profilometry images of the pit morphologies and mass loss of EH 40 steel immersed</text>
<text x="551.5" y="886.5" text-anchor="middle">in experimental solutions for 30 d: (a) abiotic; (b) P. cibarius; (c) H. meridiana; (d) mass loss rate</text>
<text x="551.5" y="928" text-anchor="middle">histogram<tspan font-size="17" dy="-9">[46]</tspan></text>
</g>
</svg></body></html>
